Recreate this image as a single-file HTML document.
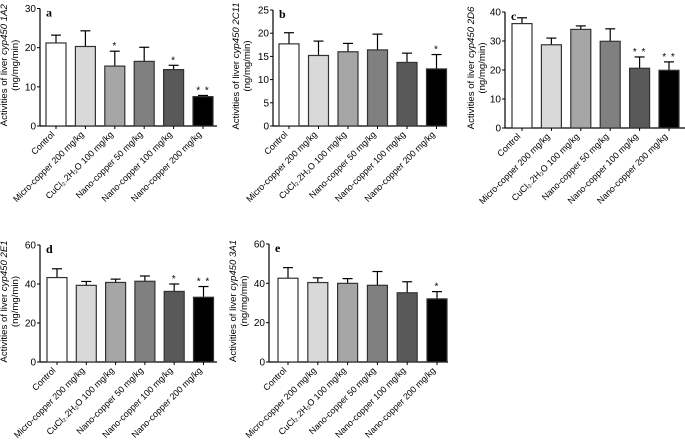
<!DOCTYPE html>
<html><head><meta charset="utf-8">
<style>
html,body{margin:0;padding:0;background:#fff;}
svg{display:block;font-family:"Liberation Sans",Arial,sans-serif;}
</style></head>
<body>
<svg id="fig" width="685" height="444" viewBox="0 0 685 444" xmlns="http://www.w3.org/2000/svg"></svg>
<script>
const categories = ["Control","Micro-copper 200 mg/kg","CuCl\u2082.2H\u2082O 100 mg/kg","Nano-copper 50 mg/kg","Nano-copper 100 mg/kg","Nano-copper 200 mg/kg"];
const valuesA = [21.2,20.3,15.3,16.5,14.4,7.5];
const errorsA = [2.0,4.0,3.8,3.6,1.1,0.3];
const sigA = ["","","*","","*","**"];
const valuesB = [17.7,15.2,16.0,16.4,13.7,12.3];
const errorsB = [2.4,3.1,1.8,3.4,2.0,3.1];
const sigB = ["","","","","","*"];
const valuesC = [36.0,28.7,34.0,29.9,20.6,19.9];
const errorsC = [2.0,2.3,1.2,4.3,3.9,2.9];
const sigC = ["","","","","**","**"];
const valuesD = [43.3,39.3,40.8,41.4,36.2,33.2];
const errorsD = [4.5,2.0,1.7,2.7,3.8,5.5];
const sigD = ["","","","","*","**"];
const valuesE = [42.6,40.4,40.0,39.0,35.2,32.1];
const errorsE = [5.4,2.4,2.4,7.0,5.6,3.7];
const sigE = ["","","","","","*"];
const ticksA = [0,10,20,30];
const ticksB = [0,5,10,15,20,25];
const ticksC = [0,10,20,30,40];
const ticksD = [0,20,40,60];
const ticksE = [0,20,40,60];

const fills = ["#ffffff","#d9d9d9","#a6a6a6","#808080","#595959","#000000"];
const NS = "http://www.w3.org/2000/svg";
const svg = document.getElementById("fig");
function mk(tag, attrs, parent){const e=document.createElementNS(NS,tag);for(const k in attrs)e.setAttribute(k,attrs[k]);(parent||svg).appendChild(e);return e;}

function panel(cfg){
  const g = mk("g",{});
  
  
  const max = cfg.ticks[cfg.ticks.length-1];
  const y = v => cfg.y0 - v/max*(cfg.y0-cfg.yTop);
  const x = i => cfg.bx0 + i*cfg.step;
  const bw = 20;
  const ax = mk("line",{x1:cfg.ax,y1:cfg.yTop,x2:cfg.ax,y2:cfg.y0,stroke:"#000","stroke-width":1.2},g);
  
  
  const xa = mk("line",{x1:cfg.ax,y1:cfg.y0,x2:cfg.axEnd,y2:cfg.y0,stroke:"#000","stroke-width":1.2},g);
  
  
  cfg.ticks.forEach(t=>{
    mk("line",{x1:cfg.ax-3,y1:y(t),x2:cfg.ax,y2:y(t),stroke:"#000","stroke-width":1},g);
    const tl = mk("text",{x:cfg.ax-4,y:y(t)+3.5,"font-size":10,"text-anchor":"end"},g);
    tl.textContent = t;
    
    
  });
  const lt = mk("text",{x:cfg.ax+6,y:cfg.yTop+8,"font-size":12,"font-weight":"bold","font-family":"Liberation Serif,serif"},g);
  lt.textContent = cfg.letter;
  
  
  const cy = (cfg.yTop+cfg.y0)/2 - 2;
  const t1 = mk("text",{x:cfg.tx,y:cy,"font-size":9.6,"text-anchor":"middle",transform:`rotate(-90 ${cfg.tx} ${cy})`},g);
  t1.innerHTML = 'Activities of liver <tspan font-style="italic">'+cfg.enzyme+'</tspan>';
  
  
  const t2 = mk("text",{x:cfg.tx+11,y:cy,"font-size":9.6,"text-anchor":"middle",transform:`rotate(-90 ${cfg.tx+11} ${cy})`},g);
  t2.textContent = '(ng/mg/min)';
  
  
  cfg.values.forEach((v,i)=>{
    const cx = x(i)+bw/2;
    const top = y(v+cfg.errors[i]);
    mk("line",{x1:cx,y1:y(v),x2:cx,y2:top,stroke:"#000","stroke-width":1.2},g);
    mk("line",{x1:cx-5,y1:top,x2:cx+5,y2:top,stroke:"#000","stroke-width":1.2},g);
    const b = mk("rect",{x:x(i),y:y(v),width:bw,height:cfg.y0-y(v),fill:fills[i],stroke:"#333","stroke-width":1.2},g);
    
    
    if(cfg.sig[i]){
      const s = mk("text",{x:cx,y:top-2,"font-size":10,"text-anchor":"middle","letter-spacing":"1"},g);
      s.textContent = cfg.sig[i].split("").join(" ");
      
      
    }
    mk("line",{x1:cx,y1:cfg.y0,x2:cx,y2:cfg.y0+3,stroke:"#000","stroke-width":1},g);
    const lx = cx-1, ly = cfg.y0+9;
    const lab = mk("text",{x:lx,y:ly,"font-size":8.9,"text-anchor":"end",transform:`rotate(-45 ${lx} ${ly})`},g);
    lab.textContent = categories[i];
    
    
  });
}
panel({letter:"a",enzyme:"cyp450 1A2",values:valuesA,errors:errorsA,sig:sigA,ticks:ticksA,ax:40,axEnd:217,y0:126,yTop:8.5,bx0:46,step:29.4,tx:7});
panel({letter:"b",enzyme:"cyp450 2C11",values:valuesB,errors:errorsB,sig:sigB,ticks:ticksB,ax:273,axEnd:447,y0:126,yTop:10,bx0:279,step:29.5,tx:239});
panel({letter:"c",enzyme:"cyp450 2D6",values:valuesC,errors:errorsC,sig:sigC,ticks:ticksC,ax:505,axEnd:685,y0:128,yTop:12,bx0:512,step:29.4,tx:474});
panel({letter:"d",enzyme:"cyp450 2E1",values:valuesD,errors:errorsD,sig:sigD,ticks:ticksD,ax:40,axEnd:217,y0:362,yTop:245,bx0:47,step:29.3,tx:7});
panel({letter:"e",enzyme:"cyp450 3A1",values:valuesE,errors:errorsE,sig:sigE,ticks:ticksE,ax:269,axEnd:448,y0:362,yTop:244,bx0:278,step:29.8,tx:236});
</script>
</body></html>
